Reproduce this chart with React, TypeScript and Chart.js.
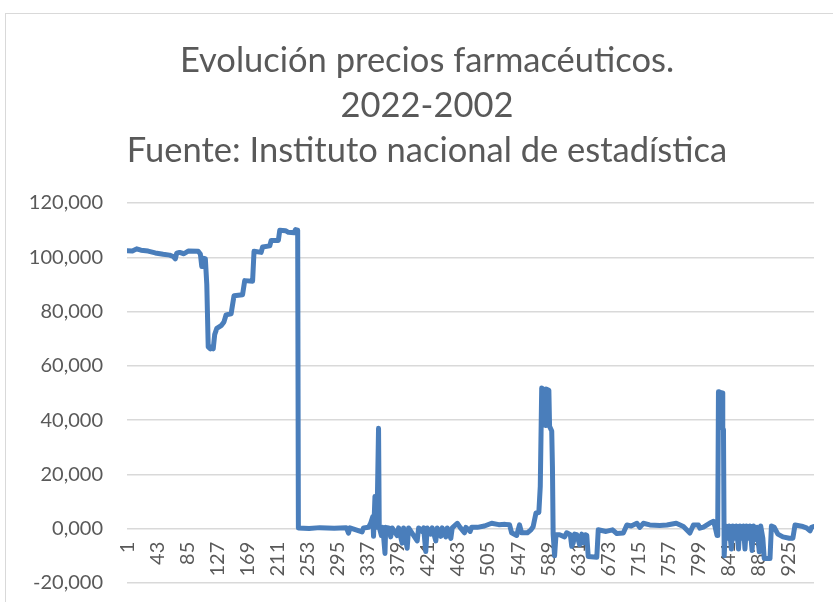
import React, { useEffect, useRef } from "react";
import { Chart, registerables } from "chart.js";

Chart.register(...registerables);

const titleLines = [
  "Evolución precios farmacéuticos.",
  "2022-2002",
  "Fuente: Instituto nacional de estadística",
];

const xTickLabels = [1, 43, 85, 127, 169, 211, 253, 295, 337, 379, 421, 463, 505, 547, 589, 631, 673, 715, 757, 799, 841, 883, 925];

const sampleIndex = [
  1, 8, 14, 20, 30, 40, 51, 60, 65, 68, 70, 74, 80, 86, 100, 103, 105, 108, 110, 112,
  114, 117, 119, 121, 123, 126, 132, 136, 139, 146, 150, 162, 165, 176, 178, 188, 190, 200, 202, 212,
  214, 222, 226, 234, 236, 239,
  240, 255, 270, 290, 307, 310, 312, 329, 331, 338, 341, 344, 345, 347, 348, 350, 352, 353, 356, 358,
  361, 362, 366, 369, 371, 378, 380, 385, 387, 392, 394, 406, 408, 413, 415, 418, 420, 425, 427, 432,
  434, 439, 441, 446, 448, 453, 455, 462, 466, 472, 474, 480, 482, 490, 500, 510, 520, 529, 535, 538,
  545, 549, 552, 560, 565, 568, 572, 576, 578, 580, 584, 585, 586, 590, 591, 594, 595, 596, 598, 600,
  605, 612, 615, 620, 622, 624, 626, 629, 633, 636, 638, 641, 643, 645, 657, 659, 670, 679, 685, 694,
  699, 705, 713, 717, 722, 731, 745, 755, 768, 778, 787, 792, 799, 801, 806, 815, 820, 822, 825, 826,
  827, 832, 833, 834, 835, 837, 840, 842, 845, 847, 850, 852, 855, 857, 860, 862, 864, 866, 869, 871,
  874, 876, 879, 881, 884, 886, 889, 891, 899, 901, 905, 910, 917, 926, 931, 934, 945, 950, 955, 957,
  960,
];

const sampleValue = [
  102.4, 102.3, 103.1, 102.6, 102.3, 101.6, 101.1, 100.8, 100.3, 99.4, 101.5, 101.8, 101.3, 102.3, 102.2, 101.2, 96.6, 99.6, 99.4, 90.0,
  67.0, 66.3, 67.0, 66.3, 71.5, 73.8, 74.8, 76.2, 78.8, 79.2, 85.8, 86.2, 91.4, 91.2, 102.2, 101.8, 103.8, 104.2, 106.2, 106.2,
  110.0, 109.8, 109.2, 109.0, 110.2, 110.0,
  0.3, 0.1, 0.4, 0.2, 0.4, -1.6, 0.3, -1.2, 0.3, 0.5, 2.0, 4.5, -2.8, 11.9, 0.5, 5.0, 37.0, 0.5, -2.5, 0.5,
  -9.1, 0.5, 0.3, -3.0, 0.3, -2.5, 0.3, -5.3, 0.3, -7.2, 0.3, -4.5, 0.3, -1.0, 0.3, -8.4, 0.3, -2.0, 0.3, -4.5,
  0.3, -2.8, 0.3, -3.0, 0.3, -3.6, 0.3, 2.0, 0.5, -1.5, 0.5, -1.0, 0.5, 0.5, 1.0, 2.0, 1.5, 1.6, 1.5, -1.5,
  -2.5, 1.4, -1.5, -1.5, -0.4, 0.7, 5.8, 6.0, 15.6, 51.8, 51.0, 38.0, 51.5, 51.0, 37.7, 36.0, 22.9, -2.0, -10.0, -2.2,
  -2.2, -3.0, -1.5, -2.2, -6.5, -5.3, -2.0, -2.2, -5.9, -2.0, -5.3, -2.2, -2.5, -10.2, -10.5, -0.4, -1.0, -0.4, -1.8, -1.6,
  1.4, 1.0, 2.0, 0.5, 2.0, 1.4, 1.2, 1.4, 2.0, 0.8, -1.6, 1.4, 1.4, 0.2, 0.6, 2.1, 2.7, 1.0, -2.5, 2.0,
  50.5, 50.0, 37.0, 36.5, -10.0, 1.0, -3.5, 1.0, -7.5, 1.0, -3.5, 1.0, -7.5, 1.0, -3.5, 1.0, -7.5, 1.0, -3.5, 1.0,
  -8.0, 1.0, -4.0, 0.5, -8.5, 1.0, -3.5, -11.0, -11.0, 1.0, 0.5, -2.0, -3.0, -3.5, -3.5, 1.4, 0.8, 0.3, -0.8, 0.5,
  0.8,
];

const yMin = -20;
const yMax = 120;
const yStep = 20;

const TEXT_COLOR = "#595959";
const LINE_COLOR = "#4A7EBB";
const GRID_COLOR = "#D9D9D9";

export default function App() {
  const canvasRef = useRef<HTMLCanvasElement | null>(null);

  useEffect(() => {
    const canvas = canvasRef.current;
    if (!canvas) return;
    const chart = new Chart(canvas, {
      type: "line",
      data: {
        datasets: [
          {
            data: sampleIndex.map((x, i) => ({ x, y: sampleValue[i] })),
            borderColor: LINE_COLOR,
            backgroundColor: LINE_COLOR,
            borderWidth: 5,
            pointRadius: 0,
            borderJoinStyle: "round",
            borderCapStyle: "round",
            tension: 0,
            fill: false,
          },
        ],
      },
      options: {
        animation: false,
        responsive: false,
        maintainAspectRatio: false,
        layout: { padding: { left: 0, right: 6, top: 0, bottom: 19 } },
        plugins: {
          legend: { display: false },
          tooltip: { enabled: false },
          title: {
            display: true,
            text: titleLines,
            color: TEXT_COLOR,
            font: { family: "Lato", size: 34.5, weight: "normal", lineHeight: 45 / 34.5 },
            padding: { top: 38, bottom: 30 },
          },
        },
        scales: {
          x: {
            type: "linear",
            min: 0.5,
            max: 960.5,
            position: { y: 0 } as any,
            grid: { display: false, drawTicks: false },
            border: { display: false },
            afterBuildTicks: (axis: any) => {
              axis.ticks = xTickLabels.map((v) => ({ value: v }));
            },
            ticks: {
              autoSkip: false,
              minRotation: 90,
              maxRotation: 90,
              padding: 13,
              color: TEXT_COLOR,
              font: { family: "Lato", size: 20 },
              callback: (v: any) => String(v),
            },
          },
          y: {
            min: yMin,
            max: yMax,
            grid: {
              color: GRID_COLOR,
              lineWidth: 1.5,
              drawTicks: true,
              tickLength: 24,
              tickColor: "rgba(0,0,0,0)",
            },
            border: { display: false },
            afterFit: (axis: any) => {
              axis.width = 127;
            },
            ticks: {
              stepSize: yStep,
              padding: 0,
              color: TEXT_COLOR,
              font: { family: "Lato", size: 20 },
              callback: (v: any) => Number(v).toFixed(3).replace(".", ","),
            },
          },
          yRight: {
            position: "right",
            display: true,
            grid: { display: false, drawTicks: false },
            border: { display: false },
            ticks: { display: false },
            afterFit: (axis: any) => {
              axis.width = 40;
            },
          },
        },
      },
    });
    return () => chart.destroy();
  }, []);

  return (
    <div
      style={{
        position: "fixed",
        left: 0,
        top: 0,
        width: 833,
        height: 602,
        overflow: "hidden",
        background: "#ffffff",
      }}
    >
      <div
        style={{
          position: "absolute",
          left: 5,
          top: 13,
          width: 900,
          height: 700,
          border: "1px solid #D9D9D9",
          boxSizing: "border-box",
        }}
      />
      <canvas
        ref={canvasRef}
        width={860}
        height={602}
        style={{ position: "absolute", left: 0, top: 0, width: 860, height: 602 }}
      />
    </div>
  );
}
